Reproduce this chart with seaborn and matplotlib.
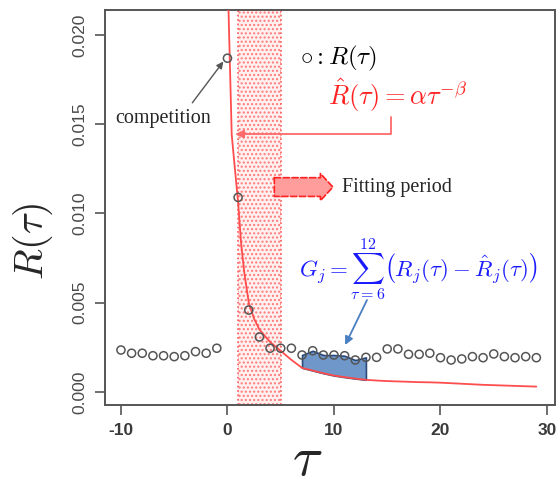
import numpy as np
import pandas as pd
import matplotlib
matplotlib.use("Agg")
import matplotlib.pyplot as plt
import seaborn as sns

# observed R(tau)
tau_obs = list(range(-10, 30))
r_obs = [0.00235, 0.00217, 0.00217, 0.00203, 0.00203, 0.00198, 0.00203, 0.00226, 0.00217, 0.00245,
         0.0187, 0.0109, 0.00459, 0.00308, 0.00245, 0.00245, 0.00245, 0.00207, 0.00231, 0.00207,
         0.00207, 0.00203, 0.00179, 0.00194, 0.00194, 0.00241, 0.00241, 0.00211, 0.00211, 0.00217,
         0.00192, 0.00179, 0.00185, 0.00198, 0.00192, 0.00213, 0.00198, 0.00192, 0.00198, 0.00192]

# fitted curve
tau_fit = [0.05, 0.4, 1, 1.3, 1.6, 2, 2.5, 3, 4, 5, 6, 7, 8, 9, 10, 11, 12, 13, 14, 15, 16, 17,
           18, 19, 20, 21, 22, 23, 24, 25, 26, 27, 28, 29]
r_fit = [0.0225, 0.0144, 0.0106, 0.0082, 0.0066, 0.0050, 0.0041, 0.0035, 0.0028, 0.0023, 0.0018,
         0.00135, 0.00120, 0.00105, 0.00092, 0.00083, 0.00075, 0.00068, 0.00064, 0.00061, 0.00059,
         0.00057, 0.00055, 0.00054, 0.00052, 0.00049, 0.00046, 0.00043, 0.00040, 0.00038, 0.00036,
         0.00034, 0.00032, 0.00030]

fit_start, fit_end = 1, 5
gap_start, gap_end = 7, 13

x_ticks = [-10, 0, 10, 20, 30]
y_ticks = [0.000, 0.005, 0.010, 0.015, 0.020]

sns.set_style("white")
plt.rcParams["mathtext.fontset"] = "cm"
plt.rcParams["hatch.linewidth"] = 1.0

fig = plt.figure(figsize=(5.59, 4.88), dpi=100)
ax = fig.add_axes([0.1878, 0.1701, 0.805, 0.8094])

df_obs = pd.DataFrame({"tau": tau_obs, "R": r_obs})
df_fit = pd.DataFrame({"tau": tau_fit, "R": r_fit})

# fitting period band
ax.axvspan(fit_start, fit_end, facecolor="#fff0f0", edgecolor="#ff7a7a", hatch="....",
           linewidth=0, zorder=1)
for xv in (fit_start, fit_end):
    ax.axvline(xv, color="#ff5a5a", linestyle=":", linewidth=1.2, zorder=2)

# blue gap area between observed points and the fit
obs_gap = df_obs[(df_obs.tau >= gap_start) & (df_obs.tau <= gap_end)]
fit_gap = df_fit[(df_fit.tau >= gap_start) & (df_fit.tau <= gap_end)]
ax.fill_between(obs_gap.tau.values, obs_gap.R.values, fit_gap.R.values,
                facecolor="#5f8cc4", edgecolor="#1f3c6e", linewidth=1.2, alpha=0.9, zorder=3)

sns.lineplot(data=df_fit, x="tau", y="R", ax=ax, color="#ff4d4d", linewidth=1.3,
             zorder=4, estimator=None, sort=False)
sns.scatterplot(data=df_obs, x="tau", y="R", ax=ax, marker="o", s=34, facecolor="none",
                edgecolor="#555555", linewidth=1.1, zorder=5)

ax.set_xlim(-11.5, 30.75)
ax.set_ylim(-0.00073, 0.0214)
ax.set_xticks(x_ticks)
ax.set_yticks(y_ticks)
ax.set_xticklabels([str(t) for t in x_ticks], fontsize=12.5, color="#3a3a3a",
                   family="Liberation Sans", fontweight="semibold")
ax.set_yticklabels([f"{t:.3f}" for t in y_ticks], fontsize=12.5, color="#4a4a4a",
                   family="Liberation Sans", rotation=90, va="center")
ax.tick_params(axis="both", direction="out", length=7, width=1.2, color="#555555",
               left=True, bottom=True, pad=6)
for sp in ax.spines.values():
    sp.set_color("#555555")
    sp.set_linewidth(1.4)
    sp.set_visible(True)
ax.set_xlabel("")
ax.set_ylabel("")

# axis labels
fig.text(0.058, 0.505, r"$R(\tau)$", rotation=90, fontsize=29, ha="center", va="center")
fig.text(0.55, 0.003, r"$\tau$", fontsize=40, ha="center", va="bottom")

# annotations
ax.text(6.8, 0.0187, r"$\circ : R(\tau)$", fontsize=18, color="black", va="center")
ax.text(9.4, 0.0166, r"$\hat{R}(\tau) = \alpha\tau^{-\beta}$", fontsize=19,
        color="#ff2020", va="center")
ax.annotate("", xy=(0.75, 0.01445), xytext=(15.35, 0.0154),
            arrowprops=dict(arrowstyle="-|>", color="#ff6a6a", linewidth=1.3,
                            connectionstyle="angle,angleA=90,angleB=0,rad=0",
                            shrinkA=0, shrinkB=0, mutation_scale=12))

ax.text(-10.5, 0.0153, "competition", fontsize=14.5, family="Liberation Serif", va="center")
ax.annotate("", xy=(-0.15, 0.0187), xytext=(-3.3, 0.0162),
            arrowprops=dict(arrowstyle="-|>", color="#555555", linewidth=1.0,
                            shrinkA=0, shrinkB=3, mutation_scale=10))

ax.annotate("", xy=(9.9, 0.01148), xytext=(4.4, 0.01148),
            arrowprops=dict(arrowstyle="simple,head_length=0.6,head_width=1.3,tail_width=0.9",
                            facecolor="#ff9c9c", edgecolor="#ff2020", linestyle="--",
                            linewidth=1.2, mutation_scale=15, shrinkA=0, shrinkB=0))
ax.text(10.8, 0.01148, "Fitting period", fontsize=14.5, family="Liberation Serif", va="center")

ax.text(6.7, 0.0069,
        r"$G_j = \sum_{\tau=6}^{12} \left(R_j(\tau) - \hat{R}_j(\tau)\right)$",
        fontsize=16.5, color="#1a1aff", va="center")
ax.annotate("", xy=(11.05, 0.00263), xytext=(13.1, 0.00515),
            arrowprops=dict(arrowstyle="-|>", color="#4a7fc1", linewidth=1.3,
                            shrinkA=0, shrinkB=0, mutation_scale=12))

fig.savefig("out.png", dpi=100)
